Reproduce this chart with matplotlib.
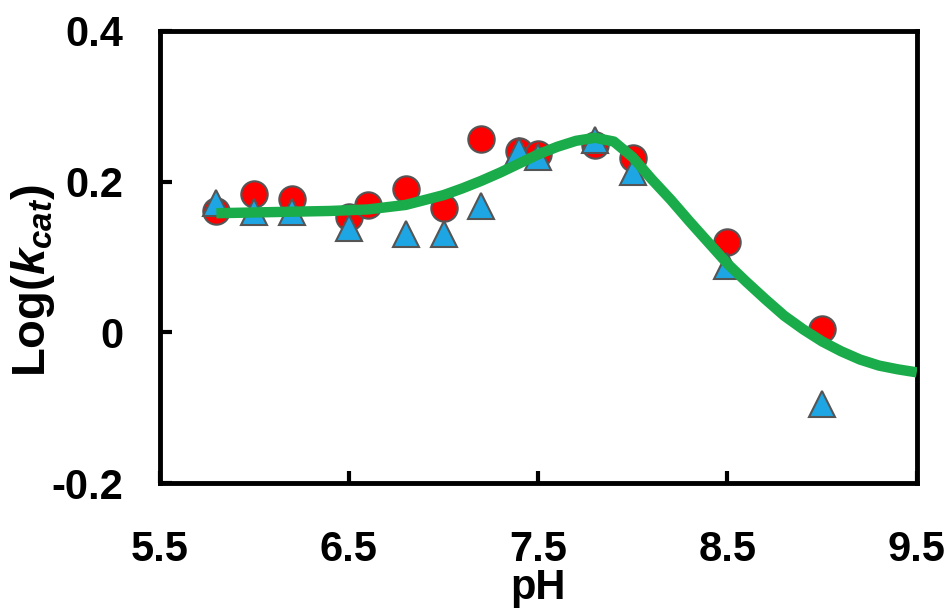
import matplotlib
matplotlib.use("Agg")
import matplotlib.pyplot as plt

plt.rcParams['font.family'] = ['Liberation Sans', 'DejaVu Sans']
plt.rcParams['font.weight'] = 'bold'
plt.rcParams['mathtext.fontset'] = 'custom'
plt.rcParams['mathtext.rm'] = 'Liberation Sans:bold'
plt.rcParams['mathtext.it'] = 'Liberation Sans:italic:bold'

# measured points
ph = [5.8, 6.0, 6.2, 6.5, 6.6, 6.8, 7.0, 7.2, 7.4, 7.5, 7.8, 8.0, 8.5, 9.0]
log_kcat_circle = [0.161, 0.184, 0.177, 0.153, 0.169, 0.190, 0.165, 0.256,
                   0.241, 0.236, 0.248, 0.231, 0.120, 0.005]

ph_tri = [5.8, 6.0, 6.2, 6.5, 6.8, 7.0, 7.2, 7.4, 7.5, 7.8, 8.0, 8.5, 9.0]
log_kcat_tri = [0.172, 0.160, 0.159, 0.139, 0.130, 0.131, 0.167, 0.240,
                0.233, 0.255, 0.213, 0.088, -0.095]

# fitted curve
ph_fit = [5.8, 6.0, 6.2, 6.4, 6.6, 6.8, 7.0, 7.1, 7.2, 7.3, 7.4, 7.5, 7.6,
          7.7, 7.8, 7.9, 8.0, 8.1, 8.2, 8.3, 8.4, 8.5, 8.6, 8.7, 8.8, 8.9,
          9.0, 9.1, 9.2, 9.3, 9.4, 9.5]
log_kcat_fit = [0.158, 0.159, 0.160, 0.161, 0.163, 0.169, 0.182, 0.191,
                0.201, 0.212, 0.224, 0.236, 0.246, 0.254, 0.258, 0.253,
                0.232, 0.203, 0.176, 0.147, 0.119, 0.091, 0.067, 0.044,
                0.022, 0.004, -0.012, -0.025, -0.036, -0.044, -0.049, -0.053]

fig = plt.figure(figsize=(9.5, 6.14), dpi=100)
ax = fig.add_axes([0.168, 0.213, 0.797, 0.737])

ax.plot(ph, log_kcat_circle, 'o', ms=19, color='#ff0000', mec='#555555', mew=1.5, zorder=3)
ax.plot(ph_tri, log_kcat_tri, '^', ms=19, color='#1ea6e4', mec='#555555', mew=1.5, zorder=4)
ax.plot(ph_fit, log_kcat_fit, '-', lw=7.5, color='#1aac4a', solid_capstyle='butt', zorder=5)

ax.set_xlim(5.5, 9.5)
ax.set_ylim(-0.2, 0.4)
ax.set_xticks([5.5, 6.5, 7.5, 8.5, 9.5])
ax.set_xticklabels(['5.5', '6.5', '7.5', '8.5', '9.5'])
ax.set_yticks([-0.2, 0, 0.2, 0.4])
ax.set_yticklabels(['-0.2', '0', '0.2', '0.4'])
ax.tick_params(direction='in', length=8.5, width=3, labelsize=30, top=False, right=False)
ax.tick_params(axis='x', pad=34)
ax.tick_params(axis='y', pad=26)
for s in ax.spines.values():
    s.set_linewidth(3.5)

ax.set_xlabel('pH', fontsize=30, fontweight='bold')
ax.xaxis.set_label_coords(0.5, -0.188)
ax.set_ylabel(r'Log($\mathit{k}_{\mathit{cat}}$)', fontsize=34, fontweight='bold')
ax.yaxis.set_label_coords(-0.136, 0.447)

plt.savefig('out.png', dpi=100)
